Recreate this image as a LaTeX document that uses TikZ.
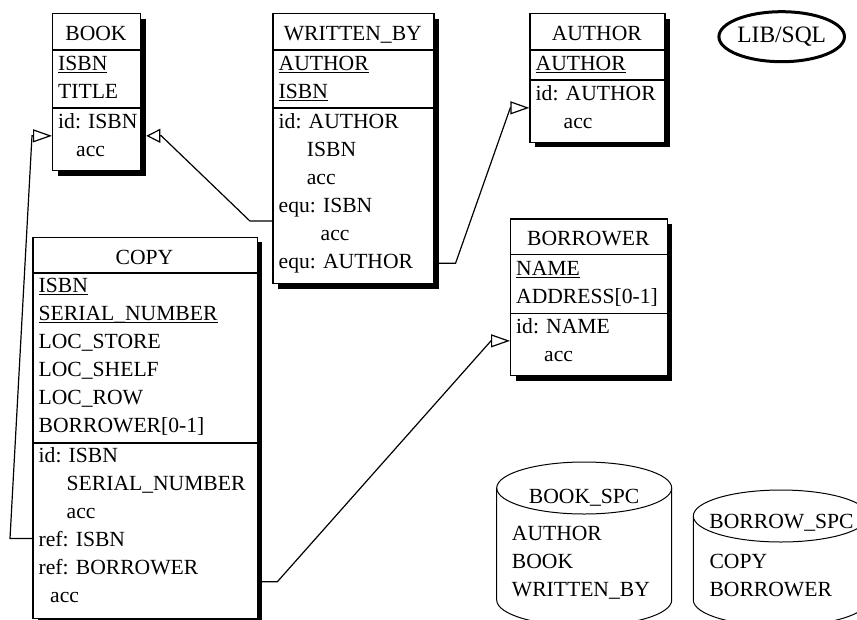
\documentclass[tikz,border=0pt]{standalone}
\usepackage{fontspec}
\setmainfont{Liberation Serif}
\usetikzlibrary{arrows.meta,shapes.geometric,shadows,calc}
\newcommand{\efont}{\fontsize{21.6pt}{26pt}\selectfont}
\newcommand{\ulin}[1]{\setbox0=\hbox{#1}\rlap{\rule[-3pt]{\wd0}{1pt}}\box0}
\tikzset{
  ent/.style={draw, fill=white, line width=1.3pt, rectangle, inner sep=0pt, anchor=north west,
    drop shadow={shadow xshift=5pt, shadow yshift=-5pt, fill=black, opacity=1}},
  txt/.style={anchor=base west, inner sep=0pt, font=\efont},
  hdr/.style={anchor=base, inner sep=0pt, font=\efont},
  divl/.style={line width=1.3pt},
  cyl/.style={line width=1pt},
  conn/.style={line width=1.2pt, line join=miter, -{Triangle[open, length=19pt, width=13pt]}},
}
\begin{document}
\begin{tikzpicture}[x=1pt, y=-1pt]
\useasboundingbox (0,0) rectangle (857,619);
\clip (0,0) rectangle (857,619);

% ---------- BOOK ----------
\node[ent, minimum width=88pt, minimum height=157pt] (book) at (52,13) {};
\node[hdr] (bk-h) at (96,40) {BOOK};
\draw[divl] (52,50) -- (140,50);
\draw[divl] (52,108) -- (140,108);
\node[txt] (bk-isbn) at (58,70) {\ulin{ISBN}};
\node[txt] (bk-title) at (58,98) {TITLE};
\node[txt] (bk-id) at (58,128) {id: ISBN};
\node[txt] (bk-acc) at (76,156) {acc};

% ---------- WRITTEN_BY ----------
\node[ent, minimum width=161pt, minimum height=270pt] (wb) at (272.3,13) {};
\node[hdr] (wb-h) at (352.8,40) {WRITTEN\_BY};
\draw[divl] (272.3,50) -- (433.3,50);
\draw[divl] (272.3,108) -- (433.3,108);
\node[txt] (wb-a) at (278.5,70) {\ulin{AUTHOR}};
\node[txt] (wb-i) at (278.5,98) {\ulin{ISBN}};
\node[txt] (wb-id) at (278.5,128) {id: AUTHOR};
\node[txt] (wb-id2) at (306.7,156) {ISBN};
\node[txt] (wb-acc1) at (306.7,184) {acc};
\node[txt] (wb-equ1) at (278.5,212) {equ: ISBN};
\node[txt] (wb-acc2) at (320.5,240) {acc};
\node[txt] (wb-equ2) at (278.5,268) {equ: AUTHOR};

% ---------- AUTHOR ----------
\node[ent, minimum width=135pt, minimum height=128.5pt] (author) at (529.3,13) {};
\node[hdr] (au-h) at (596.8,40) {AUTHOR};
\draw[divl] (529.3,50) -- (664.3,50);
\draw[divl] (529.3,80) -- (664.3,80);
\node[txt] (au-a) at (535.5,70) {\ulin{AUTHOR}};
\node[txt] (au-id) at (535.5,100) {id: AUTHOR};
\node[txt] (au-acc) at (563.5,128) {acc};

% ---------- BORROWER ----------
\node[ent, minimum width=156.7pt, minimum height=156.7pt] (borrower) at (510,218.3) {};
\node[hdr] (bo-h) at (588.3,245) {BORROWER};
\draw[divl] (510,254.5) -- (666.7,254.5);
\draw[divl] (510,313.3) -- (666.7,313.3);
\node[txt] (bo-name) at (516,275) {\ulin{NAME}};
\node[txt] (bo-addr) at (516,303) {ADDRESS[0-1]};
\node[txt] (bo-id) at (516,333) {id: NAME};
\node[txt] (bo-acc) at (544,361) {acc};

% ---------- COPY ----------
\node[ent, minimum width=224.4pt, minimum height=381.3pt] (copy) at (32.3,236.7) {};
\node[hdr] (cp-h) at (144.5,264) {COPY};
\draw[divl] (32.3,273) -- (256.7,273);
\draw[divl] (32.3,443) -- (256.7,443);
\node[txt] (cp-isbn) at (38.5,292) {\ulin{ISBN}};
\node[txt] (cp-sn) at (38.5,320) {\ulin{SERIAL\_NUMBER}};
\node[txt] (cp-ls) at (38.5,348) {LOC\_STORE};
\node[txt] (cp-lsh) at (38.5,376) {LOC\_SHELF};
\node[txt] (cp-lr) at (38.5,404) {LOC\_ROW};
\node[txt] (cp-bor) at (38.5,432) {BORROWER[0-1]};
\node[txt] (cp-id) at (38.5,462) {id: ISBN};
\node[txt] (cp-id2) at (66.5,490) {SERIAL\_NUMBER};
\node[txt] (cp-acc1) at (66.5,518) {acc};
\node[txt] (cp-ref1) at (38.5,546) {ref: ISBN};
\node[txt] (cp-ref2) at (38.5,574) {ref: BORROWER};
\node[txt] (cp-acc2) at (50,602) {acc};

% ---------- LIB/SQL ----------
\node[ellipse, draw, line width=3pt, minimum width=107pt, minimum height=50pt, inner sep=0pt,
      font=\fontsize{23.5pt}{28pt}\selectfont] (lib) at (781.7,36.7) {LIB/SQL};

% ---------- BOOK_SPC ----------
\draw[cyl] (496.7,488) -- (496.7,600) arc[start angle=180, end angle=360, x radius=87.5pt, y radius=26pt] -- (671.7,488);
\draw[cyl] (584.2,488) ellipse [x radius=87.5pt, y radius=26pt];
\node[hdr] (bs-h) at (584.2,503.3) {BOOK\_SPC};
\node[txt] (bs-1) at (511.7,540) {AUTHOR};
\node[txt] (bs-2) at (511.7,568) {BOOK};
\node[txt] (bs-3) at (511.7,596) {WRITTEN\_BY};

% ---------- BORROW_SPC ----------
\draw[cyl] (693.3,516) -- (693.3,600) arc[start angle=180, end angle=360, x radius=87.5pt, y radius=26pt] -- (868.3,516);
\draw[cyl] (780.8,516) ellipse [x radius=87.5pt, y radius=26pt];
\node[hdr] (rs-h) at (781.5,528.3) {BORROW\_SPC};
\node[txt] (rs-1) at (709.3,568.3) {COPY};
\node[txt] (rs-2) at (709.3,596) {BORROWER};

% ---------- connector points ----------
\coordinate (tBook) at ($(bk-id.west)!0.5!(bk-acc.west)$);
\coordinate (tAuth) at ($(au-id.west)!0.5!(au-acc.west)$);
\coordinate (tBor) at ($(bo-id.west)!0.5!(bo-acc.west)$);
\coordinate (sWb1) at ($(wb-equ1.west)!0.5!(wb-acc2.west)$);
\coordinate (sCp2) at ($(cp-ref2.west)!0.5!(cp-acc2.west)$);

\coordinate (bkLt) at (book.west |- tBook);
\coordinate (bkLb) at ([xshift=-20pt]bkLt);
\coordinate (bkRt) at ([xshift=5pt]book.east |- tBook);
\coordinate (bkRb) at ([xshift=15pt]bkRt);
\coordinate (auLt) at (author.west |- tAuth);
\coordinate (auLb) at ([xshift=-19pt]auLt);
\coordinate (boLt) at (borrower.west |- tBor);
\coordinate (boLb) at ([xshift=-19pt]boLt);

% ---------- connectors ----------
\draw[conn] (copy.west |- cp-ref1.west) -- ++(-22.3,0) -- (bkLb) -- (bkLt);
\draw[conn, -{Triangle[open, length=14pt, width=14pt]}] (wb.west |- sWb1) -- ++(-22.3,0) -- (bkRb) -- (bkRt);
\draw[conn] (wb.east |- wb-equ2.west) -- ++(21,0) -- (auLb) -- (auLt);
\draw[conn] (copy.east |- sCp2) -- ++(19.3,0) -- (boLb) -- (boLt);
\end{tikzpicture}
\end{document}
